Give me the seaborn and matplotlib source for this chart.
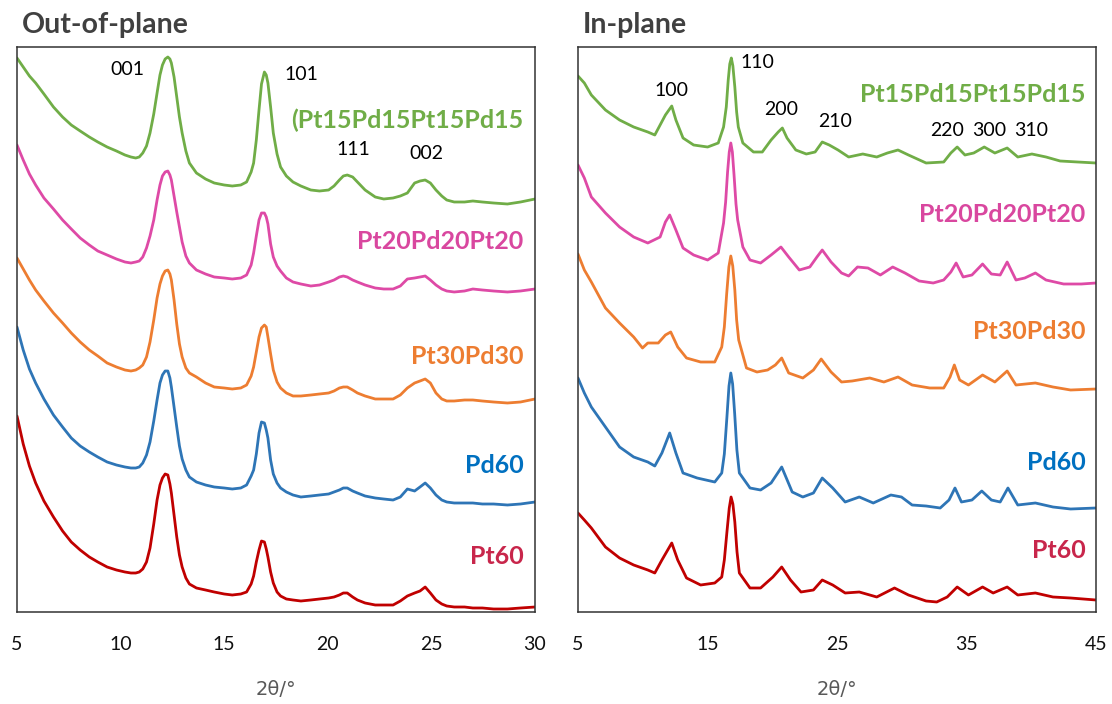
import matplotlib
matplotlib.use("Agg")
import matplotlib.pyplot as plt
import seaborn as sns
import pandas as pd

# ---------------- Out-of-plane patterns (shared 2theta grid, stacked intensity in a.u.) ----------------
oop_two_theta = [5.0, 5.3, 5.6, 5.9, 6.3, 6.76, 7.2, 7.62, 8.05, 8.49,
                 8.9, 9.35, 9.8, 10.21, 10.5, 10.73, 10.9, 11.07, 11.25, 11.42,
                 11.6, 11.76, 11.9, 12.02, 12.15, 12.28, 12.38, 12.45, 12.58, 12.71,
                 12.84, 12.97, 13.15, 13.32, 13.66, 14.1, 14.52, 15.0, 15.39, 15.8,
                 16.08, 16.3, 16.42, 16.55, 16.68, 16.8, 16.94, 17.03, 17.11, 17.24,
                 17.37, 17.55, 17.72, 18.0, 18.32, 18.7, 19.18, 19.6, 20.04, 20.3,
                 20.56, 20.75, 20.94, 21.2, 21.43, 21.8, 22.29, 22.7, 23.15, 23.5,
                 23.84, 24.19, 24.45, 24.70, 24.95, 25.22, 25.5, 25.74, 26.1, 26.60,
                 27.0, 27.46, 28.0, 28.67, 29.3, 30.0]

oop_pt15pd15pt15pd15 = [554, 545, 536, 529, 518, 505, 495, 487, 481, 475,
                        470, 465, 461, 457, 455, 454, 455, 459, 466, 479,
                        498, 519, 537, 547, 553, 555, 553, 549, 535, 515,
                        495, 479, 461, 449, 439, 433, 429, 427, 426, 427,
                        430, 440, 449, 472, 502, 528, 540, 537, 529, 505,
                        479, 458, 445, 436, 430, 426, 422, 421, 422, 426,
                        432, 436, 437, 435, 430, 422, 415, 413, 414, 416,
                        419, 429, 431, 432, 429, 422, 416, 412, 410, 410,
                        411, 410, 409, 408, 410, 413]

oop_pt20pd20pt20 = [467, 452, 438, 427, 414, 403, 392, 383, 374, 367,
                    361, 357, 353, 350, 349, 350, 351, 355, 364, 376,
                    392, 412, 427, 436, 440, 441, 437, 432, 416, 400,
                    385, 370, 356, 349, 342, 338, 335, 334, 333, 334,
                    337, 347, 359, 376, 392, 399, 399, 395, 388, 368,
                    355, 346, 341, 334, 330, 328, 326, 327, 330, 332,
                    335, 336, 335, 332, 330, 327, 324, 323, 323, 326,
                    333, 334, 335, 336, 332, 327, 323, 321, 320, 321,
                    323, 322, 321, 320, 321, 323]

oop_pt30pd30 = [354, 343, 332, 322, 311, 299, 289, 279, 270, 262,
                256, 249, 245, 242, 241, 242, 244, 247, 255, 270,
                292, 314, 328, 336, 341, 342, 338, 332, 312, 288,
                268, 255, 244, 239, 235, 229, 225, 224, 223, 224,
                227, 236, 245, 260, 275, 284, 287, 285, 275, 258,
                242, 230, 224, 219, 216, 216, 217, 218, 219, 221,
                224, 225, 225, 222, 219, 216, 213, 213, 213, 217,
                224, 229, 231, 233, 229, 219, 213, 211, 211, 212,
                212, 211, 210, 209, 210, 213]

oop_pd60 = [285, 262, 243, 229, 213, 197, 185, 174, 166, 160,
            155, 150, 147, 145, 144, 144, 145, 149, 157, 170,
            191, 212, 229, 237, 241, 241, 234, 225, 205, 185,
            166, 153, 142, 135, 130, 127, 125, 124, 123, 124,
            127, 136, 142, 158, 179, 190, 189, 182, 174, 152,
            138, 129, 124, 120, 117, 115, 116, 117, 118, 120,
            122, 124, 124, 121, 119, 116, 114, 113, 112, 115,
            123, 121, 125, 129, 124, 117, 112, 110, 109, 109,
            109, 108, 108, 107, 108, 110]

oop_pt60 = [196, 168, 146, 129, 111, 95, 81, 70, 62, 55,
            50, 45, 42, 40, 39, 39, 40, 43, 50, 64,
            88, 112, 127, 134, 138, 137, 128, 119, 97, 75,
            57, 45, 34, 28, 24, 22, 20, 18, 17, 18,
            20, 28, 36, 50, 62, 71, 70, 63, 55, 40,
            29, 20, 16, 13, 12, 11, 12, 13, 14, 15,
            17, 19, 19, 15, 12, 9, 7, 7, 7, 11,
            16, 19, 21, 25, 19, 12, 8, 6, 5, 5,
            4, 4, 3, 3, 4, 5]

# ---------------- In-plane patterns ----------------
ip_x_pt15 = [5.0, 5.49, 6.03, 7.12, 8.21, 9.30, 10.39, 10.93, 11.34, 11.75, 12.24, 12.56, 13.11, 13.93,
             15.01, 15.83, 16.24, 16.45, 16.6, 16.72, 16.84, 16.96, 17.11, 17.25, 17.38, 17.73, 18.55,
             19.23, 19.91, 20.46, 20.78, 21.14, 21.82, 22.63, 23.31, 23.86, 24.40, 25.08, 25.90, 26.99,
             28.07, 28.89, 29.71, 30.52, 31.88, 33.24, 33.79, 34.28, 34.88, 35.56, 36.37, 37.19, 38.14,
             38.96, 40.05, 41.14, 42.23, 43.59, 45.0]
ip_y_pt15 = [536, 529, 517, 502, 492, 485, 480, 477, 487, 497, 506, 492, 474, 467,
             465, 469, 485, 505, 532, 548, 554, 546, 525, 500, 485, 469, 460,
             460, 472, 480, 484, 474, 462, 458, 460, 470, 467, 462, 455, 458,
             455, 459, 462, 457, 449, 450, 459, 465, 457, 459, 465, 459, 464,
             455, 458, 455, 451, 450, 449]

ip_x_pt20 = [5.0, 5.49, 6.03, 7.12, 8.21, 9.30, 10.39, 11.34, 11.75, 12.08, 12.56, 13.11, 13.93, 15.01,
             15.83, 16.24, 16.4, 16.55, 16.68, 16.8, 16.92, 17.05, 17.2, 17.33, 17.73, 18.28, 19.10,
             19.91, 20.67, 21.27, 22.09, 22.90, 23.45, 23.86, 24.54, 25.35, 25.90, 26.58, 27.39, 28.35,
             29.30, 30.25, 31.34, 32.43, 33.24, 33.79, 34.20, 34.74, 35.42, 36.24, 36.92, 37.60, 38.14,
             38.82, 39.50, 40.32, 41.14, 42.50, 43.86, 45.0]
ip_y_pt20 = [447, 434, 415, 399, 385, 375, 369, 375, 390, 397, 382, 364, 357, 352,
             359, 389, 410, 440, 460, 469, 460, 437, 408, 392, 365, 352, 349,
             357, 365, 355, 342, 345, 355, 362, 350, 339, 336, 345, 344, 337,
             345, 339, 331, 329, 332, 340, 349, 335, 337, 348, 338, 337, 350,
             332, 334, 339, 332, 328, 328, 329]

ip_x_pt30 = [5.0, 5.49, 6.03, 7.12, 8.21, 9.30, 9.98, 10.39, 11.20, 11.75, 12.16, 12.70, 13.38, 14.47,
             15.56, 16.10, 16.3, 16.48, 16.65, 16.8, 16.95, 17.11, 17.25, 17.41, 18.01, 18.82, 19.64,
             20.24, 20.73, 21.27, 22.36, 23.18, 23.78, 24.54, 25.35, 26.17, 27.53, 28.62, 29.71, 30.80,
             32.16, 33.24, 33.73, 34.06, 34.47, 35.15, 36.24, 37.19, 38.14, 38.82, 40.32, 41.68, 43.04,
             45.0]
ip_y_pt30 = [358, 342, 330, 304, 289, 275, 264, 269, 269, 277, 280, 265, 254, 250,
             250, 265, 285, 318, 345, 356, 346, 322, 292, 272, 244, 240, 242,
             247, 254, 239, 234, 242, 253, 240, 230, 231, 234, 230, 235, 227,
             224, 224, 235, 247, 232, 227, 237, 230, 241, 227, 229, 225, 222,
             223]

ip_x_pd60 = [5.0, 5.49, 6.03, 7.12, 8.21, 9.30, 10.39, 10.93, 11.48, 12.08, 12.56, 13.11, 14.20, 15.56,
             16.10, 16.3, 16.5, 16.66, 16.8, 16.94, 17.1, 17.27, 17.46, 18.28, 19.10, 19.91, 20.73,
             21.54, 22.36, 23.18, 23.86, 24.67, 25.63, 26.72, 27.80, 29.16, 29.98, 30.80, 31.88, 32.97,
             33.65, 34.11, 34.61, 35.42, 36.18, 36.92, 37.60, 38.20, 38.96, 40.32, 41.68, 43.04, 45.0]
ip_y_pd60 = [234, 219, 205, 185, 165, 155, 150, 146, 159, 179, 159, 139, 134, 130,
             139, 158, 195, 226, 239, 228, 198, 162, 139, 124, 122, 129, 145,
             120, 115, 119, 134, 124, 110, 115, 109, 117, 115, 107, 106, 104,
             112, 124, 110, 112, 121, 112, 110, 124, 107, 109, 105, 103, 104]

ip_x_pt60 = [5.0, 5.49, 6.03, 7.12, 8.21, 9.30, 10.39, 10.93, 11.48, 12.24, 12.70, 13.38, 14.47, 15.56,
             16.10, 16.3, 16.5, 16.68, 16.82, 16.96, 17.11, 17.28, 17.46, 18.28, 19.10, 20.05, 20.73,
             21.41, 22.22, 23.18, 23.86, 24.67, 25.63, 26.72, 28.07, 29.44, 30.52, 31.88, 32.70, 33.51,
             34.28, 35.15, 36.24, 37.06, 38.14, 38.96, 40.32, 41.68, 43.04, 45.0]
ip_y_pt60 = [99, 92, 84, 65, 54, 47, 42, 39, 52, 69, 52, 34, 27, 29,
             35, 52, 80, 104, 115, 108, 90, 60, 39, 24, 24, 35, 45,
             32, 20, 22, 32, 27, 19, 20, 15, 24, 17, 11, 10, 15,
             25, 17, 25, 19, 25, 17, 19, 15, 14, 12]

samples = ["Pt15Pd15Pt15Pd15", "Pt20Pd20Pt20", "Pt30Pd30", "Pd60", "Pt60"]
line_colors = ["#70AD47", "#DE4AA6", "#ED7D31", "#2E75B6", "#C00000"]
label_colors = ["#70AD47", "#D9479F", "#ED7D31", "#0070C0", "#C8264B"]

oop_labels = ["(Pt15Pd15Pt15Pd15", "Pt20Pd20Pt20", "Pt30Pd30", "Pd60", "Pt60"]
oop_label_y = [492, 370, 255, 146, 55]
ip_labels = ["Pt15Pd15Pt15Pd15", "Pt20Pd20Pt20", "Pt30Pd30", "Pd60", "Pt60"]
ip_label_y = [517, 397, 280, 149, 62]

oop_hkl = ["001", "101", "111", "002"]
oop_hkl_x = [10.33, 18.71, 21.23, 24.77]
oop_hkl_y = [542, 537, 462, 458]
ip_hkl = ["100", "110", "200", "210", "220", "300", "310"]
ip_hkl_x = [12.18, 18.82, 20.68, 24.85, 33.49, 36.74, 39.98]
ip_hkl_y = [521, 549, 502, 490, 481, 481, 481]

oop_ticks = [5, 10, 15, 20, 25, 30]
ip_ticks = [5, 15, 25, 35, 45]


def frame(xs, ys, name):
    return pd.DataFrame({"two_theta": xs, "intensity": ys, "sample": name})


oop_series = [oop_pt15pd15pt15pd15, oop_pt20pd20pt20, oop_pt30pd30, oop_pd60, oop_pt60]
oop_df = pd.concat([frame(oop_two_theta, ys, name) for ys, name in zip(oop_series, samples)],
                   ignore_index=True)

ip_df = pd.concat([
    frame(ip_x_pt15, ip_y_pt15, samples[0]),
    frame(ip_x_pt20, ip_y_pt20, samples[1]),
    frame(ip_x_pt30, ip_y_pt30, samples[2]),
    frame(ip_x_pd60, ip_y_pd60, samples[3]),
    frame(ip_x_pt60, ip_y_pt60, samples[4]),
], ignore_index=True)

sns.set_theme(style="white")
plt.rcParams["font.family"] = ["Lato", "DejaVu Sans"]

fig = plt.figure(figsize=(11.12, 7.04), dpi=100)
ax_l = fig.add_axes([17 / 1112, 1 - 612 / 704, 518 / 1112, 565 / 704])
ax_r = fig.add_axes([578 / 1112, 1 - 612 / 704, 518 / 1112, 565 / 704])

palette = dict(zip(samples, line_colors))


def draw_panel(ax, df, xlim, ticks, labels, label_y, hkl, hkl_x, hkl_y, title, label_x):
    sns.lineplot(data=df, x="two_theta", y="intensity", hue="sample", palette=palette,
                 hue_order=samples, linewidth=2.0, ax=ax, legend=False, sort=False,
                 estimator=None)
    ax.set_xlim(*xlim)
    ax.set_ylim(0, 565)
    ax.set_yticks([])
    ax.set_xticks(ticks)
    ax.set_xticklabels([str(t) for t in ticks], fontsize=14, color="#111111")
    ax.tick_params(axis="x", length=0, pad=17)
    ax.set_xlabel("2θ/°", fontsize=14, color="#595959", labelpad=20,
                  family=["DejaVu Sans"])
    ax.set_ylabel("")
    for s in ax.spines.values():
        s.set_color("#333333")
        s.set_linewidth(1.1)
    for text, y, c in zip(labels, label_y, label_colors):
        ax.text(label_x, y, text, color=c, fontsize=18, fontweight="bold",
                ha="right", va="center")
    for text, x, y in zip(hkl, hkl_x, hkl_y):
        ax.text(x, y, text, color="black", fontsize=14, ha="center", va="center")
    ax.text(5 / 518, 1.0 + 22 / 565, title, transform=ax.transAxes, fontsize=20.5,
            fontweight="bold", color="#404040", ha="left", va="center")


draw_panel(ax_l, oop_df, (5, 30), oop_ticks, oop_labels, oop_label_y,
           oop_hkl, oop_hkl_x, oop_hkl_y, "Out-of-plane", 29.45)
draw_panel(ax_r, ip_df, (5, 45), ip_ticks, ip_labels, ip_label_y,
           ip_hkl, ip_hkl_x, ip_hkl_y, "In-plane", 44.2)

fig.savefig("out.png", dpi=100)
